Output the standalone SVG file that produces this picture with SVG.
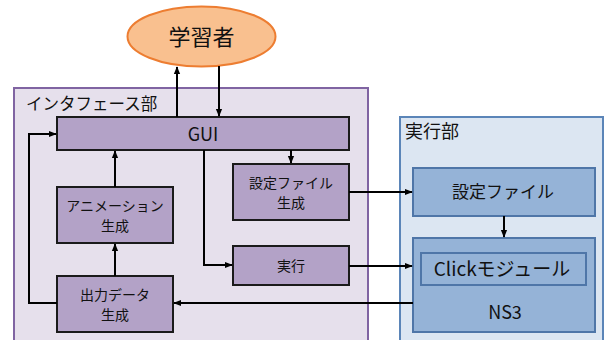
<svg xmlns="http://www.w3.org/2000/svg" width="608" height="340" viewBox="0 0 608 340">
<defs>
<style>
text{font-family:"Noto Sans CJK JP","Noto Sans",sans-serif;fill:#111;}
.frameP{fill:#E6E0EC;stroke:#8064A2;stroke-width:2;}
.frameB{fill:#DCE6F2;stroke:#5B85B8;stroke-width:2;}
.boxP{fill:#B3A2C7;stroke:#1a1a1a;stroke-width:2;}
.boxB{fill:#95B3D7;stroke:#4F76A8;stroke-width:2;}
.lbl{font-size:14px;text-anchor:middle;}
.big{font-size:17px;text-anchor:middle;}
.conn{fill:none;stroke:#000;stroke-width:2;}
</style>
<marker id="a" viewBox="0 0 10 10" refX="9" refY="5" markerWidth="8" markerHeight="8" orient="auto" markerUnits="userSpaceOnUse">
<path d="M0,1 L10,5 L0,9 z" fill="#000"/>
</marker>
</defs>
<rect width="608" height="340" fill="#fff"/>

<g id="learner">
<ellipse cx="201.5" cy="36.5" rx="74" ry="30" fill="#F9C08F" stroke="#ED7D31" stroke-width="2"/>
<text x="201.5" y="44.5" font-size="22" text-anchor="middle">学習者</text>
</g>

<g id="interface-frame">
<rect class="frameP" x="14" y="88" width="354" height="262"/>
<text x="26" y="110" font-size="16.5">インタフェース部</text>
</g>

<g id="exec-frame">
<rect class="frameB" x="400" y="117" width="203" height="233"/>
<text x="405" y="138" font-size="18">実行部</text>
</g>

<g id="gui">
<rect class="boxP" x="57" y="117" width="292" height="33"/>
<text x="203" y="140.5" font-size="18" text-anchor="middle">GUI</text>
</g>

<g id="anim">
<rect class="boxP" x="57" y="187" width="116" height="56"/>
<text class="lbl" x="115" y="211">アニメーション</text>
<text class="lbl" x="115" y="231">生成</text>
</g>

<g id="output">
<rect class="boxP" x="57" y="276" width="116" height="56"/>
<text class="lbl" x="115" y="300">出力データ</text>
<text class="lbl" x="115" y="320">生成</text>
</g>

<g id="confgen">
<rect class="boxP" x="233" y="164" width="116" height="56"/>
<text class="lbl" x="291" y="188">設定ファイル</text>
<text class="lbl" x="291" y="208">生成</text>
</g>

<g id="run">
<rect class="boxP" x="233" y="246" width="116" height="39"/>
<text class="lbl" x="291" y="270.5">実行</text>
</g>

<g id="conffile">
<rect class="boxB" x="413" y="168" width="182" height="48"/>
<text class="big" x="503" y="198">設定ファイル</text>
</g>

<g id="ns3">
<rect class="boxB" x="413" y="238" width="182" height="94"/>
<text x="505" y="319" font-size="18" text-anchor="middle">NS3</text>
</g>

<g id="click">
<rect class="boxB" x="421" y="253" width="165" height="32" stroke-width="1.5"/>
<text x="502" y="276" font-size="19" text-anchor="middle">Clickモジュール</text>
</g>

<g id="connectors">
<line class="conn" x1="177" y1="117" x2="177" y2="67" marker-end="url(#a)"/>
<line class="conn" x1="219" y1="66" x2="219" y2="116" marker-end="url(#a)"/>
<polyline class="conn" points="57,303 29,303 29,134 56,134" marker-end="url(#a)"/>
<line class="conn" x1="115" y1="187" x2="115" y2="151" marker-end="url(#a)"/>
<line class="conn" x1="115" y1="276" x2="115" y2="244" marker-end="url(#a)"/>
<line class="conn" x1="291" y1="150" x2="291" y2="163" marker-end="url(#a)"/>
<polyline class="conn" points="204,150 204,265 232,265" marker-end="url(#a)"/>
<line class="conn" x1="349" y1="192" x2="412" y2="192" marker-end="url(#a)"/>
<line class="conn" x1="349" y1="266" x2="412" y2="266" marker-end="url(#a)"/>
<line class="conn" x1="504" y1="216" x2="504" y2="237" marker-end="url(#a)"/>
<line class="conn" x1="413" y1="303" x2="174" y2="303" marker-end="url(#a)"/>
</g>
</svg>
